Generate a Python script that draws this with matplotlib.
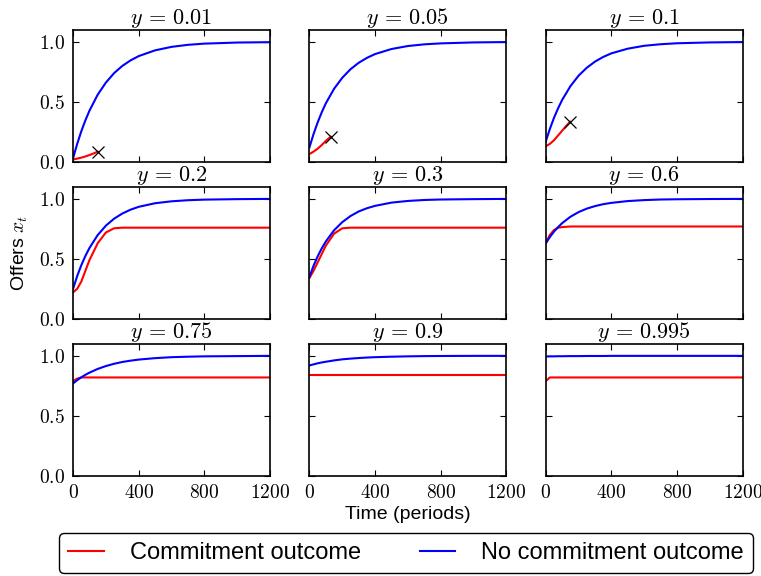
import matplotlib
matplotlib.use('Agg')
from matplotlib import pyplot as plt

plt.rcParams['font.family'] = ['Liberation Sans', 'DejaVu Sans']
plt.rcParams['mathtext.fontset'] = 'cm'
plt.rcParams['xtick.direction'] = 'in'
plt.rcParams['ytick.direction'] = 'in'
plt.rcParams['xtick.top'] = True
plt.rcParams['ytick.right'] = True
plt.rcParams['xtick.major.size'] = 4
plt.rcParams['ytick.major.size'] = 4
plt.rcParams['axes.linewidth'] = 1.2

# discount factors shown in the panel titles
y_labels = ['0.01', '0.05', '0.1', '0.2', '0.3', '0.6', '0.75', '0.9', '0.995']

# time grid (periods)
periods = [0, 25, 50, 75, 100, 150, 200, 250, 300, 350, 400, 500, 600, 700, 800, 1000, 1200]

# no commitment outcome (blue)
no_commit = [
    [0.03, 0.149, 0.254, 0.346, 0.427, 0.560, 0.661, 0.740, 0.800, 0.846, 0.882, 0.930, 0.959, 0.976, 0.986, 0.995, 0.998],
    [0.12, 0.231, 0.328, 0.413, 0.488, 0.609, 0.701, 0.772, 0.826, 0.867, 0.899, 0.941, 0.966, 0.980, 0.988, 0.996, 0.999],
    [0.17, 0.275, 0.367, 0.446, 0.517, 0.631, 0.719, 0.785, 0.836, 0.875, 0.905, 0.944, 0.968, 0.981, 0.989, 0.996, 0.999],
    [0.25, 0.356, 0.446, 0.524, 0.591, 0.698, 0.777, 0.835, 0.878, 0.910, 0.934, 0.964, 0.980, 0.989, 0.994, 0.998, 1.0],
    [0.35, 0.442, 0.520, 0.587, 0.645, 0.738, 0.806, 0.857, 0.895, 0.922, 0.942, 0.969, 0.983, 0.991, 0.995, 0.998, 1.0],
    [0.63, 0.682, 0.727, 0.765, 0.798, 0.851, 0.890, 0.919, 0.940, 0.956, 0.967, 0.982, 0.990, 0.995, 0.997, 0.999, 1.0],
    [0.77, 0.797, 0.821, 0.842, 0.860, 0.891, 0.915, 0.934, 0.949, 0.960, 0.969, 0.981, 0.989, 0.993, 0.996, 0.998, 1.0],
    [0.92, 0.929, 0.938, 0.945, 0.951, 0.962, 0.971, 0.977, 0.982, 0.986, 0.989, 0.993, 0.996, 0.998, 0.999, 1.0, 1.0],
    [0.995, 0.996, 0.996, 0.997, 0.997, 0.998, 0.998, 0.999, 0.999, 0.999, 1.0, 1.0, 1.0, 1.0, 1.0, 1.0, 1.0],
]

# commitment outcome (red); first row stops early and is marked with an x
commit_t = [
    [0, 25, 50, 75, 100, 125, 150],
    [0, 25, 50, 75, 100, 130],
    [0, 25, 50, 75, 100, 125, 148],
    periods, periods, periods, periods, periods, periods,
]
commit = [
    [0.02, 0.027, 0.035, 0.045, 0.057, 0.07, 0.085],
    [0.065, 0.085, 0.11, 0.14, 0.175, 0.21],
    [0.13, 0.15, 0.18, 0.22, 0.26, 0.30, 0.335],
    [0.22, 0.25, 0.31, 0.40, 0.49, 0.63, 0.72, 0.755, 0.76, 0.76, 0.76, 0.76, 0.76, 0.76, 0.76, 0.76, 0.76],
    [0.34, 0.40, 0.47, 0.54, 0.61, 0.71, 0.755, 0.76, 0.76, 0.76, 0.76, 0.76, 0.76, 0.76, 0.76, 0.76, 0.76],
    [0.63, 0.70, 0.74, 0.76, 0.765, 0.77, 0.77, 0.77, 0.77, 0.77, 0.77, 0.77, 0.77, 0.77, 0.77, 0.77, 0.77],
    [0.79, 0.81, 0.82, 0.82, 0.82, 0.82, 0.82, 0.82, 0.82, 0.82, 0.82, 0.82, 0.82, 0.82, 0.82, 0.82, 0.82],
    [0.84, 0.84, 0.84, 0.84, 0.84, 0.84, 0.84, 0.84, 0.84, 0.84, 0.84, 0.84, 0.84, 0.84, 0.84, 0.84, 0.84],
    [0.79, 0.82, 0.82, 0.82, 0.82, 0.82, 0.82, 0.82, 0.82, 0.82, 0.82, 0.82, 0.82, 0.82, 0.82, 0.82, 0.82],
]
stops_early = [True, True, True, False, False, False, False, False, False]

xticks = [0, 400, 800, 1200]
yticks = [0.0, 0.5, 1.0]

fig, axes = plt.subplots(3, 3, figsize=(7.61, 5.76), dpi=100)
fig.subplots_adjust(left=0.096, right=0.976, top=0.948, bottom=0.174, wspace=0.2, hspace=0.19)

for i, ax in enumerate(axes.flat):
    row, col = divmod(i, 3)
    ax.plot(commit_t[i], commit[i], color='r', lw=1.5, label='Commitment outcome')
    ax.plot(periods, no_commit[i], color='b', lw=1.5, label='No commitment outcome')
    if stops_early[i]:
        ax.plot(commit_t[i][-1], commit[i][-1], marker='x', color='k', ms=9, mew=0.9)
    ax.set_xlim(0, 1200)
    ax.set_ylim(0, 1.1)
    ax.set_xticks(xticks)
    ax.set_yticks(yticks)
    if row == 2:
        ax.set_xticklabels(['$%d$' % v for v in xticks], fontsize=14)
    else:
        ax.set_xticklabels([])
    if col == 0:
        ax.set_yticklabels(['$%.1f$' % v for v in yticks], fontsize=14)
    else:
        ax.set_yticklabels([])
    ax.tick_params(pad=6)
    ax.set_title('$y\\,=\\,%s$' % y_labels[i], fontsize=16, pad=3)

axes[1, 0].set_ylabel('Offers $x_t$', fontsize=14, labelpad=6)
axes[2, 1].set_xlabel('Time (periods)', fontsize=14, labelpad=3)

handles, labels = axes[0, 0].get_legend_handles_labels()
fig.legend(handles[:2], labels[:2], loc='lower center', bbox_to_anchor=(0.5335, 0.005),
           ncol=2, fontsize=17, fancybox=True, framealpha=1, edgecolor='k',
           handlelength=1.5, handletextpad=1.1, columnspacing=2.5, borderpad=0.38,
           borderaxespad=0)

fig.savefig('out.png', dpi=100)
